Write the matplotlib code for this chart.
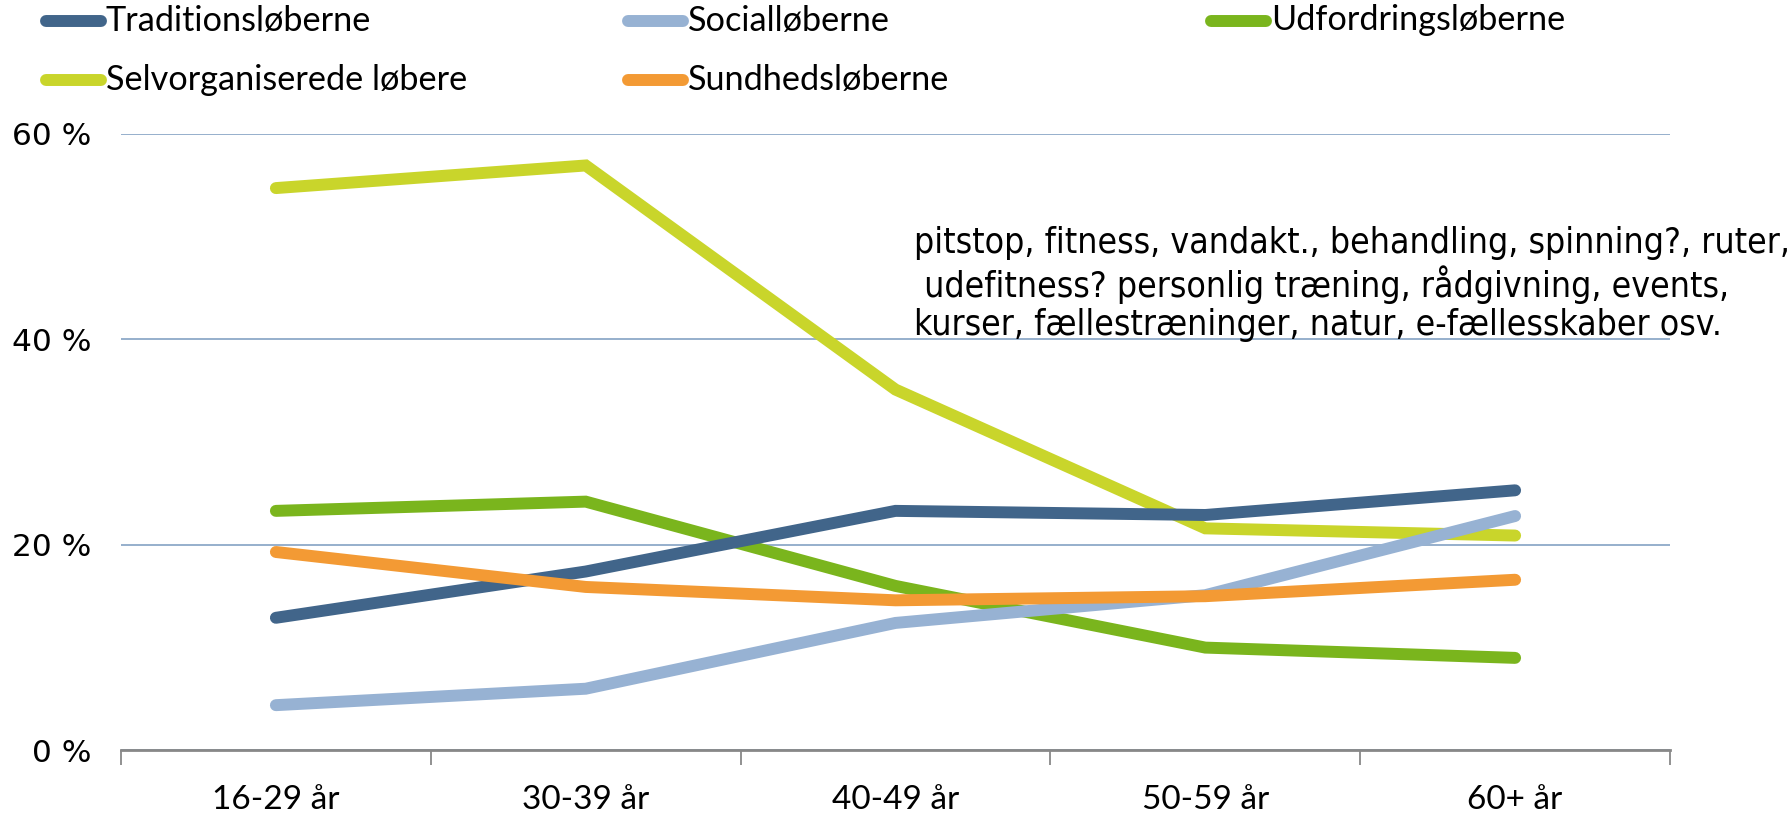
import matplotlib
matplotlib.use("Agg")
import matplotlib.pyplot as plt
from matplotlib.lines import Line2D

# Age groups and share of each runner segment (%)
age_groups = ["16-29 år", "30-39 år", "40-49 år", "50-59 år", "60+ år"]
traditions = [12.9, 17.4, 23.3, 22.9, 25.3]
social = [4.4, 6.0, 12.4, 15.1, 22.8]
udfordrings = [23.3, 24.2, 16.0, 10.0, 9.0]
selvorganiserede = [54.7, 56.9, 35.1, 21.6, 20.9]
sundheds = [19.3, 15.9, 14.6, 15.0, 16.6]

series_names = ["Traditionsløberne", "Socialløberne", "Udfordringsløberne",
                "Selvorganiserede løbere", "Sundhedsløberne"]
series_values = [traditions, social, udfordrings, selvorganiserede, sundheds]
series_colors = ["#41658A", "#97B2D3", "#7AB51D", "#C9D52B", "#F39A34"]

y_ticks = [0, 20, 40, 60]
note = ("pitstop, fitness, vandakt., behandling, spinning?, ruter,\n"
        " udefitness? personlig træning, rådgivning, events,\n"
        "kurser, fællestræninger, natur, e-fællesskaber osv.")

W, H = 1791, 814
fig = plt.figure(figsize=(W / 100, H / 100), dpi=100)
ax = fig.add_axes([121 / W, 1 - 750.4 / H, (1670 - 121) / W, (750.4 - 133.6) / H])

x = list(range(len(age_groups)))
# Draw order: background lines first
draw_order = [3, 2, 0, 1, 4]
for i in draw_order:
    ax.plot(x, series_values[i], color=series_colors[i], lw=8.6,
            solid_capstyle="round", solid_joinstyle="miter", zorder=3)

ax.set_xlim(-0.5, len(age_groups) - 0.5)
ax.set_ylim(0, 60)
ax.set_yticks(y_ticks)
ax.set_yticklabels([f"{v} %" for v in y_ticks], fontsize=22.5,
                   family="DejaVu Sans")
ax.yaxis.grid(True, color="#8EA9C8", lw=1.3)
ax.set_axisbelow(True)
ax.tick_params(axis="y", length=0, pad=21.5)

ax.set_xticks(x)
ax.set_xticklabels(age_groups, fontsize=24, family="Lato")
ax.tick_params(axis="x", length=0, pad=25)
ax.set_xticks([i - 0.5 for i in range(len(age_groups) + 1)], minor=True)
ax.tick_params(axis="x", which="minor", length=11, width=1.3, color="#888888",
               direction="out")

for s in ["top", "right", "left"]:
    ax.spines[s].set_visible(False)
ax.spines["bottom"].set_color("#888888")
ax.spines["bottom"].set_linewidth(2)

# Legend laid out in a 3-column grid across the top
col_x = [46, 628, 1211]
row_y = [20.5, 80]
for k, (name, col) in enumerate(zip(series_names, series_colors)):
    r, c = divmod(k, 3)
    x0, y0 = col_x[c], row_y[r]
    fig.add_artist(Line2D([x0 / W, (x0 + 55) / W], [1 - y0 / H, 1 - y0 / H],
                          color=col, lw=8.6, solid_capstyle="round",
                          transform=fig.transFigure))
    fig.text((x0 + 60) / W, 1 - y0 / H, name, fontsize=24.7, family="Lato",
             va="center", ha="left")

fig.text(914 / W, 1 - 284 / H, note, fontsize=25.5, family="DejaVu Sans",
         fontstretch="condensed", va="center", ha="left", linespacing=1.15)

fig.savefig("out.png", dpi=100, facecolor="white")
